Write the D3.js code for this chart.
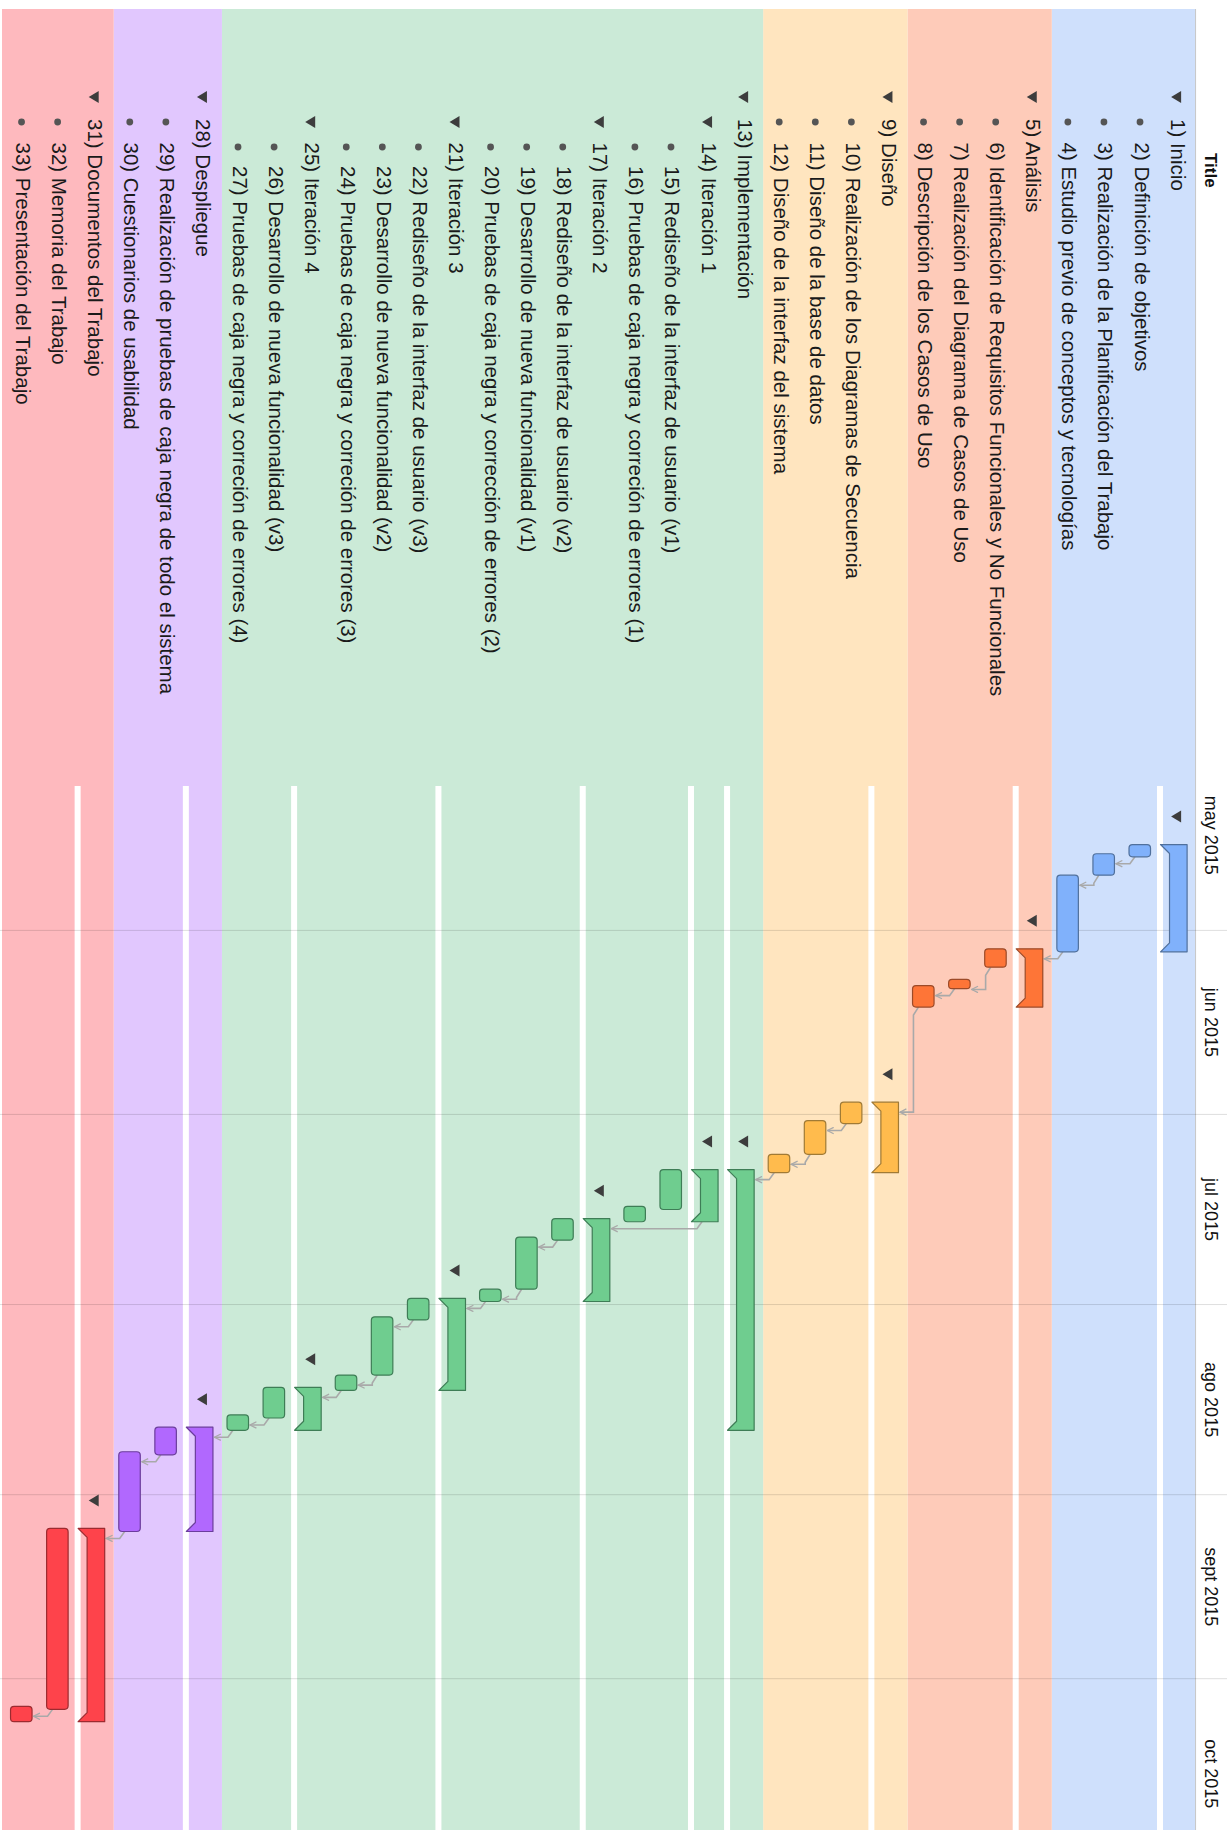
<!DOCTYPE html>
<html>
<head>
<meta charset="utf-8">
<script src="https://cdn.jsdelivr.net/npm/d3@7"></script>
<style>
  body { margin: 0; background: #fff; }
  svg { display: block; }
  text { font-family: "Liberation Sans", Arial, Helvetica, sans-serif; }
</style>
</head>
<body>
<svg id="chart" width="1227" height="1830"></svg>
<script>
// ---- data -------------------------------------------------------------
const headerTitle = "Title";

const taskNames = [
  "Inicio",
  "Definición de objetivos",
  "Realización de la Planificación del Trabajo",
  "Estudio previo de conceptos y tecnologías",
  "Análisis",
  "Identificación de Requisitos Funcionales y No Funcionales",
  "Realización del Diagrama de Casos de Uso",
  "Descripción de los Casos de Uso",
  "Diseño",
  "Realización de los Diagramas de Secuencia",
  "Diseño de la base de datos",
  "Diseño de la interfaz del sistema",
  "Implementación",
  "Iteración 1",
  "Rediseño de la interfaz de usuario (v1)",
  "Pruebas de caja negra y correción de errores (1)",
  "Iteración 2",
  "Rediseño de la interfaz de usuario (v2)",
  "Desarrollo de nueva funcionalidad (v1)",
  "Pruebas de caja negra y corrección de errores (2)",
  "Iteración 3",
  "Rediseño de la interfaz de usuario (v3)",
  "Desarrollo de nueva funcionalidad (v2)",
  "Pruebas de caja negra y correción de errores (3)",
  "Iteración 4",
  "Desarrollo de nueva funcionalidad (v3)",
  "Pruebas de caja negra y correción de errores (4)",
  "Despliegue",
  "Realización de pruebas de caja negra de todo el sistema",
  "Cuestionarios de usabilidad",
  "Documentos del Trabajo",
  "Memoria del Trabajo",
  "Presentación del Trabajo"
];

// outline depth of each task
const taskLevels = [0,1,1,1, 0,1,1,1, 0,1,1,1, 0,1,2,2,1,2,2,2,1,2,2,2,1,2,2, 0,1,1, 0,1,1];

// rows that are summary (parent) tasks
const summaryRows = [1,5,9,13,14,17,21,25,28,31];

const taskStarts = [
  "2015-05-18 00:00", "2015-05-18 00:00", "2015-05-19 12:00", "2015-05-23 00:00",
  "2015-06-04 00:00", "2015-06-04 00:00", "2015-06-09 00:00", "2015-06-10 00:00",
  "2015-06-29 00:00", "2015-06-29 00:00", "2015-07-02 00:00", "2015-07-07 12:00",
  "2015-07-10 00:00", "2015-07-10 00:00", "2015-07-10 00:00", "2015-07-16 00:00",
  "2015-07-18 00:00", "2015-07-18 00:00", "2015-07-21 00:00", "2015-07-29 12:00",
  "2015-07-31 00:00", "2015-07-31 00:00", "2015-08-03 00:00", "2015-08-12 12:00",
  "2015-08-14 12:00", "2015-08-14 12:00", "2015-08-19 00:00",
  "2015-08-21 00:00", "2015-08-21 00:00", "2015-08-25 00:00",
  "2015-09-06 12:00", "2015-09-06 12:00", "2015-10-05 12:00"
];

const taskEnds = [
  "2015-06-04 12:00", "2015-05-20 00:00", "2015-05-23 00:00", "2015-06-04 12:00",
  "2015-06-13 12:00", "2015-06-07 00:00", "2015-06-10 12:00", "2015-06-13 12:00",
  "2015-07-10 12:00", "2015-07-02 12:00", "2015-07-07 12:00", "2015-07-10 12:00",
  "2015-08-21 12:00", "2015-07-18 12:00", "2015-07-16 12:00", "2015-07-18 12:00",
  "2015-07-31 12:00", "2015-07-21 12:00", "2015-07-29 12:00", "2015-07-31 12:00",
  "2015-08-15 00:00", "2015-08-03 12:00", "2015-08-12 12:00", "2015-08-15 00:00",
  "2015-08-21 12:00", "2015-08-19 12:00", "2015-08-21 12:00",
  "2015-09-07 00:00", "2015-08-25 12:00", "2015-09-07 00:00",
  "2015-10-08 00:00", "2015-10-06 00:00", "2015-10-08 00:00"
];

// finish-to-start links [predecessor row, successor row]
const dependencies = [
  [2,3],[3,4],[4,5],[6,7],[7,8],[8,9],[10,11],[11,12],[12,13],[14,17],
  [18,19],[19,20],[20,21],[22,23],[23,24],[24,25],[26,27],[27,28],
  [29,30],[30,31],[32,33]
];

// phases: first and last row of each coloured block
const groupFirstRows = [1, 5, 9, 13, 28, 31];
const groupLastRows  = [4, 8, 12, 27, 30, 33];

const monthLabels = ["may 2015", "jun 2015", "jul 2015", "ago 2015", "sept 2015", "oct 2015"];

// ---- styles -----------------------------------------------------------
const bandColors   = ["#cfe0fc", "#fecbb9", "#ffe5bf", "#cbead7", "#e1c7fe", "#feb9be"];
const barColors    = ["#80b1fb", "#fe7537", "#ffbb4d", "#6fcd8f", "#b168fe", "#fe434b"];
const barStrokes   = ["#50709c", "#9c4a28", "#a07a35", "#3e7d56", "#6b3d9c", "#9c2b30"];

// ---- layout -----------------------------------------------------------
// The chart is laid out with time running left-to-right and rows
// top-to-bottom, then the whole drawing is turned a quarter turn clockwise.
const W = 1830;          // length along the time direction
const H = 1227;          // length across the rows
const headerH = 31;      // header strip (titles, months)
const topPad = 9;
const rowH = 36.08;
const chartStartX = 786; // where the row separators begin

const parse = d3.utcParse("%Y-%m-%d %H:%M");
const starts = taskStarts.map(parse);
const ends = taskEnds.map(parse);

const x = d3.scaleUtc()
  .domain([new Date(Date.UTC(2015, 5, 1)), new Date(Date.UTC(2015, 9, 1))])
  .range([930.4, 1678.7]);

const rowIds = d3.range(1, taskNames.length + 1);
const y = d3.scaleBand()
  .domain(rowIds)
  .range([headerH - 0.1, headerH - 0.1 + rowIds.length * rowH])
  .paddingInner(0).paddingOuter(0);

const groupOf = r => groupFirstRows.findIndex((f, i) => r >= f && r <= groupLastRows[i]);
const isSummary = r => summaryRows.includes(r);

const svg = d3.select("#chart");
const defs = svg.append("defs");
defs.append("marker")
  .attr("id", "arrowHead")
  .attr("viewBox", "0 0 10 10")
  .attr("refX", 9).attr("refY", 5)
  .attr("markerWidth", 8).attr("markerHeight", 8)
  .attr("markerUnits", "userSpaceOnUse")
  .attr("orient", "auto")
  .append("path")
  .attr("d", "M1,1 L9,5 L1,9")
  .attr("fill", "none")
  .attr("stroke", "#a9a9a9")
  .attr("stroke-width", 1.6);

const g = svg.append("g").attr("transform", `translate(${H},0) rotate(90)`);

// phase bands
g.append("g").selectAll("rect")
  .data(groupFirstRows)
  .join("rect")
  .attr("x", topPad)
  .attr("width", W - topPad)
  .attr("y", d => y(d))
  .attr("height", (d, i) => {
    const bottom = i === groupFirstRows.length - 1 ? H - 2 : y(groupLastRows[i]) + y.bandwidth();
    return bottom - y(d);
  })
  .attr("fill", (d, i) => bandColors[i]);

// header border
g.append("line")
  .attr("x1", topPad).attr("x2", W)
  .attr("y1", headerH + 0.5).attr("y2", headerH + 0.5)
  .attr("stroke", "#c9c9c9").attr("stroke-width", 1);

// white separators under summary rows
g.append("g").selectAll("rect")
  .data(summaryRows)
  .join("rect")
  .attr("x", chartStartX)
  .attr("width", W - chartStartX)
  .attr("y", d => y(d) + y.bandwidth() - 3)
  .attr("height", 6)
  .attr("fill", "#fff");

// month grid lines
const monthStarts = d3.utcMonth.range(new Date(Date.UTC(2015, 4, 1)), new Date(Date.UTC(2015, 10, 1)));
g.append("g").selectAll("line")
  .data(monthStarts.slice(1))
  .join("line")
  .attr("x1", d => x(d)).attr("x2", d => x(d))
  .attr("y1", 0).attr("y2", H)
  .attr("stroke", "rgba(0,0,0,0.13)").attr("stroke-width", 1);

// month labels, centred in each month
g.append("g").selectAll("text")
  .data(monthStarts)
  .join("text")
  .attr("x", d => (x(d) + x(d3.utcMonth.offset(d, 1))) / 2)
  .attr("y", 22)
  .attr("text-anchor", "middle")
  .attr("font-size", 18)
  .attr("fill", "#111")
  .text((d, i) => monthLabels[i]);

// column title
g.append("text")
  .attr("x", 153).attr("y", 22)
  .attr("font-size", 17).attr("font-weight", "bold")
  .attr("fill", "#111")
  .text(headerTitle);

// outline labels
const labels = g.append("g");
rowIds.forEach(r => {
  const lvl = taskLevels[r - 1];
  const top = y(r);
  const mx = 97 + 25 * lvl;
  if (isSummary(r)) {
    labels.append("path")
      .attr("d", `M${mx - 6},${top + 15} L${mx + 6},${top + 15} L${mx},${top + 25} Z`)
      .attr("fill", "#3d3d3d");
  } else {
    labels.append("circle")
      .attr("cx", mx).attr("cy", top + 20).attr("r", 3.4)
      .attr("fill", "#555");
  }
  labels.append("text")
    .attr("x", 119 + 23.5 * lvl)
    .attr("y", top + 25.5)
    .attr("font-size", 20.5)
    .attr("fill", "#1a1a1a")
    .text(`${r}) ${taskNames[r - 1]}`);
});

// dependency links
const barTop = r => y(r) + (isSummary(r) ? 9 : 9.5);
g.append("g").selectAll("path")
  .data(dependencies)
  .join("path")
  .attr("d", ([p, s]) => {
    const pe = x(ends[p - 1]);
    const bottom = y(p) + y.bandwidth();
    const tx = x(starts[s - 1]) + 10;
    const dx = Math.min(pe + 8, tx);
    return `M${pe},${bottom - 11} L${dx},${bottom - 6} L${tx},${bottom - 6} L${tx},${barTop(s) - 1.5}`;
  })
  .attr("fill", "none")
  .attr("stroke", "#a9a9a9")
  .attr("stroke-width", 1.6)
  .attr("marker-end", "url(#arrowHead)");

// task bars
const bars = g.append("g");
rowIds.forEach(r => {
  const gi = groupOf(r);
  const x0 = x(starts[r - 1]);
  const x1 = x(ends[r - 1]);
  const top = y(r);
  if (isSummary(r)) {
    const t = top + 9, b = top + y.bandwidth() - 0.5, tab = 9;
    bars.append("path")
      .attr("d", `M${x0},${t} L${x1},${t} L${x1},${b} L${x1 - tab},${b - tab} L${x0 + tab},${b - tab} L${x0},${b} Z`)
      .attr("fill", barColors[gi])
      .attr("stroke", barStrokes[gi])
      .attr("stroke-width", 1.2)
      .attr("stroke-linejoin", "round");
    // collapse marker ahead of the summary bar
    const cx = x0 - 28;
    bars.append("path")
      .attr("d", `M${cx - 6},${top + 15} L${cx + 6},${top + 15} L${cx},${top + 25} Z`)
      .attr("fill", "#3d3d3d");
  } else {
    bars.append("rect")
      .attr("x", x0).attr("width", x1 - x0)
      .attr("y", top + 9.5).attr("height", 21.5)
      .attr("rx", 3.5).attr("ry", 3.5)
      .attr("fill", barColors[gi])
      .attr("stroke", barStrokes[gi])
      .attr("stroke-width", 1.2);
  }
});
</script>
</body>
</html>
